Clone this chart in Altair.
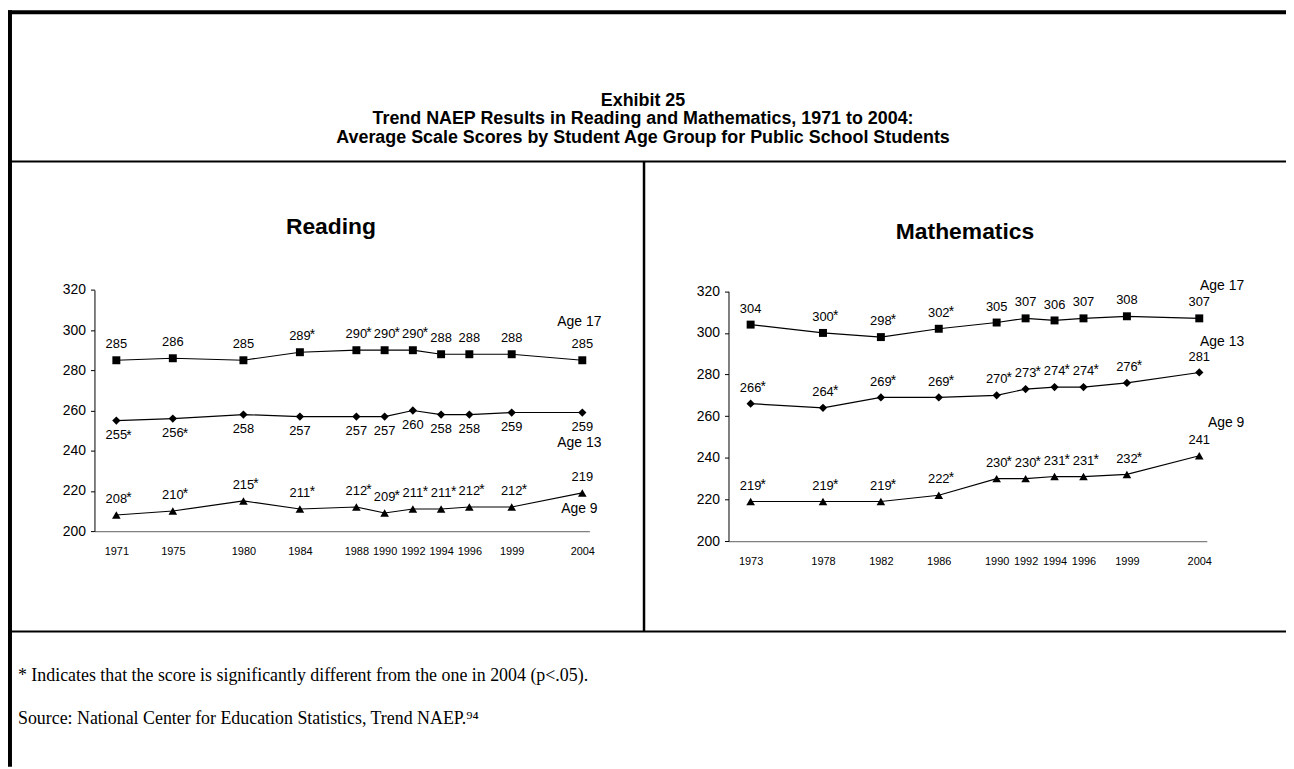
import altair as alt
import pandas as pd

# ---------------- data ----------------
reading_years = [1971, 1975, 1980, 1984, 1988, 1990, 1992, 1994, 1996, 1999, 2004]
read_age17 = [285, 286, 285, 289, 290, 290, 290, 288, 288, 288, 285]
read_age17_sig = [0, 0, 0, 1, 1, 1, 1, 0, 0, 0, 0]
read_age13 = [255, 256, 258, 257, 257, 257, 260, 258, 258, 259, 259]
read_age13_sig = [1, 1, 0, 0, 0, 0, 0, 0, 0, 0, 0]
read_age9 = [208, 210, 215, 211, 212, 209, 211, 211, 212, 212, 219]
read_age9_sig = [1, 1, 1, 1, 1, 1, 1, 1, 1, 1, 0]

math_years = [1973, 1978, 1982, 1986, 1990, 1992, 1994, 1996, 1999, 2004]
math_age17 = [304, 300, 298, 302, 305, 307, 306, 307, 308, 307]
math_age17_sig = [0, 1, 1, 1, 0, 0, 0, 0, 0, 0]
math_age13 = [266, 264, 269, 269, 270, 273, 274, 274, 276, 281]
math_age13_sig = [1, 1, 1, 1, 1, 1, 1, 1, 1, 0]
math_age9 = [219, 219, 219, 222, 230, 230, 231, 231, 232, 241]
math_age9_sig = [1, 1, 1, 1, 1, 1, 1, 1, 1, 0]

series_names = ["Age 17", "Age 13", "Age 9"]
y_ticks = [200, 220, 240, 260, 280, 300, 320]

header_lines = [
    "Exhibit 25",
    "Trend NAEP Results in Reading and Mathematics, 1971 to 2004:",
    "Average Scale Scores by Student Age Group for Public School Students",
]
panel_titles = ["Reading", "Mathematics"]
footnote = "* Indicates that the score is significantly different from the one in 2004 (p<.05)."
source = "Source: National Center for Education Statistics, Trend NAEP.\u2079\u2074"

FONT = "Liberation Sans"
SERIF = "Liberation Serif"
W, H = 1286, 761


def long_df(years, vals, sigs):
    rows = []
    for name, v, s in zip(series_names, vals, sigs):
        for yr, sc, sg in zip(years, v, s):
            rows.append({"year": yr, "score": sc, "sig": sg, "series": name,
                         "label": str(sc)})
    return pd.DataFrame(rows)


read_df = long_df(reading_years, [read_age17, read_age13, read_age9],
                  [read_age17_sig, read_age13_sig, read_age9_sig])
math_df = long_df(math_years, [math_age17, math_age13, math_age9],
                  [math_age17_sig, math_age13_sig, math_age9_sig])

shape_scale = alt.Scale(domain=series_names, range=["square", "diamond", "triangle-up"])
size_scale = alt.Scale(domain=series_names, range=[64, 75, 70])


def panel(df, years, xdomain, xrange, yrange, below_series, age_offsets):
    xs = alt.Scale(domain=xdomain, range=xrange, nice=False, zero=False)
    ys = alt.Scale(domain=[200, 320], range=yrange, nice=False, zero=False)
    x_axis = alt.Axis(orient="bottom", values=years, format="d", tickSize=0,
                      labelFontSize=11, labelFont=FONT, labelColor="black",
                      labelPadding=15, domainColor="#808080", domainWidth=1.3,
                      grid=False, title=None, offset=-(H - yrange[0]),
                      labelFlush=False, labelOverlap=False)
    y_axis = alt.Axis(orient="left", values=y_ticks, tickSize=4, tickColor="black",
                      labelFontSize=14, labelFont=FONT, labelColor="black",
                      labelPadding=5, domainColor="black", domainWidth=1,
                      grid=False, title=None, offset=-xrange[0])
    base = alt.Chart(df)
    X = alt.X("year:Q", scale=xs, axis=x_axis)
    Y = alt.Y("score:Q", scale=ys, axis=y_axis)

    line = base.mark_line(color="black", strokeWidth=1.2).encode(
        x=X, y=Y, detail="series:N")
    pts = base.mark_point(filled=True, color="black", opacity=1).encode(
        x=X, y=Y,
        shape=alt.Shape("series:N", scale=shape_scale, legend=None),
        size=alt.Size("series:N", scale=size_scale, legend=None))

    above = base.transform_filter(
        alt.FieldOneOfPredicate(field="series", oneOf=[s for s in series_names if s not in below_series]))
    below = base.transform_filter(
        alt.FieldOneOfPredicate(field="series", oneOf=below_series if below_series else ["none"]))

    txt = dict(font=FONT, fontSize=13, color="black", baseline="middle", align="center")
    star = dict(font=FONT, fontSize=14, color="black", baseline="middle", align="left")
    lab_above = above.mark_text(dy=-16, **txt).encode(x=X, y=Y, text="label:N")
    star_above = above.transform_filter("datum.sig == 1").mark_text(dx=10, dy=-17, text="*", **star).encode(x=X, y=Y)
    lab_below = below.mark_text(dy=15, **txt).encode(x=X, y=Y, text="label:N")
    star_below = below.transform_filter("datum.sig == 1").mark_text(dx=10, dy=16, text="*", **star).encode(x=X, y=Y)

    last = df[df["year"] == years[-1]]
    age_layers = []
    for name in series_names:
        dx, dy = age_offsets[name]
        age_layers.append(
            alt.Chart(last[last["series"] == name]).mark_text(
                dx=dx, dy=dy, font=FONT, fontSize=14, color="black",
                baseline="middle", align="center").encode(x=X, y=Y, text="series:N"))
    return alt.layer(line, pts, lab_above, star_above, lab_below, star_below, *age_layers)


left = panel(read_df, reading_years, [1969.45, 2004.5], [87, 585], [524, 281.3],
             ["Age 13"], {"Age 17": (-3, -38), "Age 13": (-3, 31), "Age 9": (-3, 16)})
right = panel(math_df, math_years, [1971.47, 2004.52], [725, 1206.3], [534, 282.7],
              [], {"Age 17": (23, -33), "Age 13": (23, -31), "Age 9": (27, -33)})

# ---------------- frame & texts ----------------
anchor = pd.DataFrame({"a": [0]})


def rule(x1, x2, y1, y2, w):
    return alt.Chart(anchor).mark_rule(color="black", strokeWidth=w).encode(
        x=alt.value(x1), x2=alt.value(x2), y=alt.value(y1), y2=alt.value(y2))


def text(s, x, y, size, bold=False, align="center", font=FONT):
    return alt.Chart(anchor).mark_text(
        text=s, font=font, fontSize=size, fontWeight="bold" if bold else "normal",
        align=align, baseline="middle", color="black").encode(
        x=alt.value(x), y=alt.value(y))


frame = alt.layer(
    rule(0, W, 2, 2, 4),
    rule(2, 2, 0, H, 4),
    rule(0, W, 152, 152, 2),
    rule(640, 640, 152, 625, 2.5),
    rule(0, W, 625, 625, 2),
    text(header_lines[0], 639, 91, 18, True),
    text(header_lines[1], 639, 109.5, 18, True),
    text(header_lines[2], 639, 128, 18, True),
    text(panel_titles[0], 325, 218, 23, True),
    text(panel_titles[1], 963, 223, 23, True),
    text(footnote, 10, 670, 18, False, "left", SERIF),
    text(source, 10, 713, 18, False, "left", SERIF),
)

chart = alt.layer(frame, left, right).resolve_scale(
    x="independent", y="independent", shape="independent", size="independent"
).properties(
    width=W, height=H, padding=0, autosize=alt.AutoSizeParams(type="none"),
    background="white"
).configure_view(stroke=None)

chart.save("out.html", embed_options={"renderer": "svg", "actions": False})
